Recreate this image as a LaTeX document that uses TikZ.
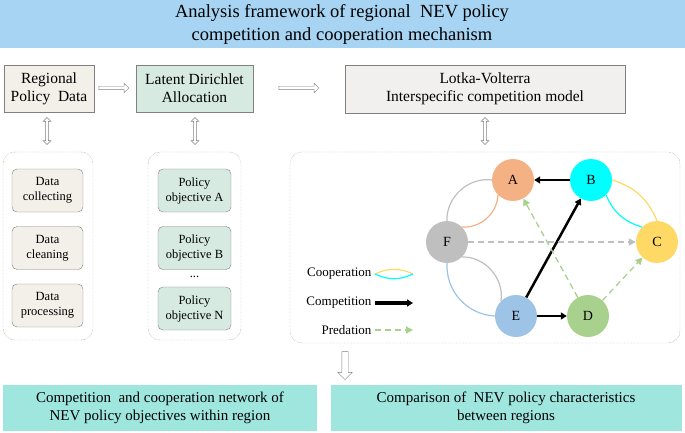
\documentclass[tikz,border=0pt]{standalone}
\usepackage{fontspec}
\setmainfont{Liberation Serif}
\usetikzlibrary{positioning,shapes.arrows,arrows.meta}
\definecolor{banner}{RGB}{166,212,242}
\definecolor{beige}{RGB}{243,239,233}
\definecolor{mint}{RGB}{214,234,226}
\definecolor{light}{RGB}{242,240,238}
\definecolor{teal}{RGB}{158,230,222}
\definecolor{cA}{RGB}{244,177,131}
\definecolor{cB}{RGB}{0,255,255}
\definecolor{cC}{RGB}{255,217,102}
\definecolor{cD}{RGB}{169,209,142}
\definecolor{cE}{RGB}{157,195,230}
\definecolor{cF}{RGB}{191,191,191}
\tikzset{
	box/.style={draw=gray,align=center,inner sep=2pt,font=\fontsize{15.5}{18}\selectfont},
	sub/.style={draw=gray,rounded corners=5pt,align=center,minimum width=71pt,minimum height=43pt,font=\fontsize{12.5}{15}\selectfont},
	frame/.style={draw=gray,densely dotted,rounded corners=12pt},
	hollow/.style={single arrow,draw=gray,fill=white,minimum height=30pt,single arrow head extend=3pt,inner sep=1.5pt},
	twoway/.style={double arrow,draw=gray,fill=white,minimum height=27pt,double arrow head extend=2.5pt,inner sep=1.2pt,rotate=90},
	circ/.style={circle,minimum size=42pt,inner sep=0pt,font=\fontsize{14}{16}\selectfont},
	comp/.style={line width=2.5pt,-{Triangle[length=6pt,width=7pt]}},
	pred/.style={dash pattern=on 6pt off 4pt,line width=1.3pt,cD,-{Triangle[length=7pt,width=7pt]}},
	coop/.style={line width=1.2pt},
	lab/.style={font=\fontsize{13}{15}\selectfont,anchor=east},
}
\begin{document}
\begin{tikzpicture}[x=1pt,y=-1pt]
	\useasboundingbox (0,0) rectangle (685,433);
	
	% title..............................
	\fill [banner] (0,0) rectangle (685,48);
	\node [align=center,font=\fontsize{18.5}{23}\selectfont] (title) at (342,24) {Analysis framework of regional\ \ NEV policy\\competition and cooperation mechanism};
	
	% top row............................
	\node [box,fill=beige,minimum width=90pt,minimum height=47pt] (data) at (49,88.5) {Regional\\Policy\ \ Data};
	\node [box,fill=mint,minimum width=117pt,minimum height=47pt] (lda) at (194.5,88.5) {Latent Dirichlet\\Allocation};
	\node [box,fill=light,minimum width=280pt,minimum height=48pt] (lv) at (485,89) {Lotka-Volterra\\Interspecific competition model};
	\node [hollow] (a1) at (113,88) {};
	\node [hollow,minimum height=40pt] (a2) at (298,88) {};
	
	% vertical links.....................
	\node [twoway] (d1) at (47,131) {};
	\node [twoway] (d2) at (195,131) {};
	\node [twoway] (d3) at (485,131) {};
	
	% frames.............................
	\draw [frame] (3,152) rectangle (93,340);
	\draw [frame] (148,152) rectangle (241,340);
	\draw [frame] (290,152) rectangle (680,343);
	
	% data steps.........................
	\node [sub,fill=beige] (s1) at (47.5,190.5) {Data\\collecting};
	\node [sub,fill=beige] (s2) at (47.5,248) {Data\\cleaning};
	\node [sub,fill=beige] (s3) at (47.5,305.5) {Data\\processing};
	
	% objectives.........................
	\node [sub,fill=mint,minimum width=73pt] (o1) at (194.5,190.5) {Policy\\objective A};
	\node [sub,fill=mint,minimum width=73pt] (o2) at (194.5,248) {Policy\\objective B};
	\node [font=\fontsize{12.5}{15}\selectfont] (dots) at (194.5,277) {...};
	\node [sub,fill=mint,minimum width=73pt] (o3) at (194.5,308.5) {Policy\\objective N};
	
	% network............................
	\node [circ,fill=cA] (A) at (513,180) {A};
	\node [circ,fill=cB] (B) at (591,180) {B};
	\node [circ,fill=cC] (C) at (657,242) {C};
	\node [circ,fill=cD] (D) at (588,316) {D};
	\node [circ,fill=cE] (E) at (516,316) {E};
	\node [circ,fill=cF] (F) at (447,242) {F};
	
	% cooperation........................
	\draw [coop,cF] (F.north) to [bend left=50] (A.west);
	\draw [coop,cA] (F.north east) to [bend right=45] (A.south west);
	\draw [coop,cC] (B.east) to [bend left=25] (C.north);
	\draw [coop,cB] (B.south east) to [bend right=25] (C.north west);
	\draw [coop,cF] (F.south east) to [bend left=50] (E.north west);
	\draw [coop,cE] (F.south) to [bend right=45] (E.west);
	
	% competition and predation..........
	\draw [comp] (E) -- (B);
	\draw [comp] (B) -- (A);
	\draw [comp] (E) -- (D);
	\draw [pred] (D) -- (A);
	\draw [pred] (D) -- (C);
	\draw [pred,cF] (F) -- (C);
	
	% legend.............................
	\coordinate (l1a) at (375,274);
	\coordinate (l1b) at (413,274);
	\node [lab] (lc) at (l1a) {Cooperation};
	\draw [coop,cC] (l1a) to [bend left=25] (l1b);
	\draw [coop,cB] (l1a) to [bend right=25] (l1b);
	\coordinate (l2a) at (375,303);
	\coordinate (l2b) at (413,303);
	\node [lab] (lk) at (l2a) {Competition};
	\draw [comp,line width=3.5pt] (l2a) -- (l2b);
	\coordinate (l3a) at (375,330);
	\coordinate (l3b) at (413,330);
	\node [lab] (lp) at (l3a) {Predation};
	\draw [pred] (l3a) -- (l3b);
	
	% bottom row.........................
	\node [hollow,rotate=-90,minimum height=28pt,single arrow head extend=4pt,inner sep=3pt] (a3) at (345,364) {};
	\fill [teal] (3,385) rectangle (317,431);
	\node [align=center,font=\fontsize{15}{18}\selectfont] (res1) at (160,408) {Competition\ \ and cooperation network of\\NEV policy objectives within region};
	\fill [teal] (331,385) rectangle (682,431);
	\node [align=center,font=\fontsize{15}{18}\selectfont] (res2) at (506,408) {Comparison of\ \ NEV policy characteristics\\between regions};
\end{tikzpicture}
\end{document}
